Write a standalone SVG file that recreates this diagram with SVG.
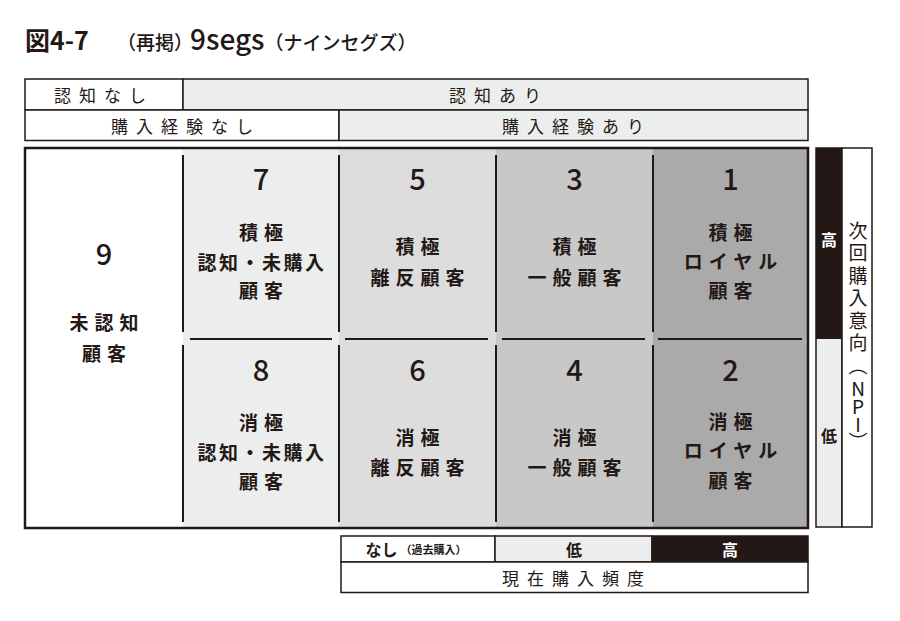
<svg xmlns="http://www.w3.org/2000/svg" width="900" height="621" viewBox="0 0 900 621">
<style>
text{font-family:"Noto Sans CJK JP","Noto Sans",sans-serif;fill:#231815;}
.hdr{font-size:17px;letter-spacing:8px;text-anchor:middle;dominant-baseline:central;}
.num{font-size:29px;font-weight:500;text-anchor:middle;dominant-baseline:central;}
.lbl{font-size:19px;font-weight:700;letter-spacing:6px;text-anchor:middle;dominant-baseline:central;}
.lbl2{font-size:19px;font-weight:700;letter-spacing:2.5px;text-anchor:middle;dominant-baseline:central;}
.axis{font-size:16px;font-weight:700;text-anchor:middle;dominant-baseline:central;}
.vert{font-size:19px;writing-mode:vertical-rl;text-orientation:upright;letter-spacing:3.5px;}
.box{stroke:#231815;stroke-width:1.5;}
.div{stroke:#231815;stroke-width:2;fill:none;}
.c1{fill:#eceeed;}.c2{fill:#dcdddc;}.c3{fill:#c8c8c8;}.c4{fill:#a9aaa9;}
</style>
<rect width="900" height="621" fill="#ffffff"/>

<g id="title">
<text y="50"><tspan x="25" font-size="25" font-weight="700">図4-7</tspan><tspan x="117" font-size="19" font-weight="500">（再掲）</tspan><tspan x="190" font-size="28" font-weight="500">9segs</tspan><tspan font-size="19" font-weight="500">（ナインセグズ）</tspan></text>
</g>

<g id="header-awareness">
<rect x="25" y="79" width="158" height="31" fill="#ffffff" class="box"/>
<rect x="183" y="79" width="625" height="31" class="c1 box"/>
<text class="hdr" x="104" y="94.5">認知なし</text>
<text class="hdr" x="499" y="94.5">認知あり</text>
</g>
<g id="header-purchase">
<rect x="25" y="110" width="314" height="30.5" fill="#ffffff" class="box"/>
<rect x="339" y="110" width="469" height="30.5" class="c1 box"/>
<text class="hdr" x="186" y="125.5">購入経験なし</text>
<text class="hdr" x="577" y="125.5">購入経験あり</text>
</g>

<g id="matrix-bg">
<rect x="25" y="148" width="783" height="380" fill="#ffffff"/>
<rect x="183" y="148" width="156" height="380" class="c1"/>
<rect x="339" y="148" width="157" height="380" class="c2"/>
<rect x="496" y="148" width="157" height="380" class="c3"/>
<rect x="653" y="148" width="155" height="380" class="c4"/>
<rect x="25" y="148" width="783" height="380" fill="none" stroke="#231815" stroke-width="2.5"/>
</g>

<g id="dividers">
<line class="div" x1="183" y1="155" x2="183" y2="332"/>
<line class="div" x1="339" y1="155" x2="339" y2="332"/>
<line class="div" x1="496" y1="155" x2="496" y2="332"/>
<line class="div" x1="653" y1="155" x2="653" y2="332"/>
<line class="div" x1="183" y1="345" x2="183" y2="522"/>
<line class="div" x1="339" y1="345" x2="339" y2="522"/>
<line class="div" x1="496" y1="345" x2="496" y2="522"/>
<line class="div" x1="653" y1="345" x2="653" y2="522"/>
<line class="div" x1="190" y1="339" x2="332" y2="339"/>
<line class="div" x1="345" y1="339" x2="488" y2="339"/>
<line class="div" x1="502" y1="339" x2="645" y2="339"/>
<line class="div" x1="658" y1="339" x2="802" y2="339"/>
</g>

<g id="seg9">
<text class="num" x="104" y="252">9</text>
<text class="lbl" x="107" y="321">未認知</text>
<text class="lbl" x="107" y="352">顧客</text>
</g>
<g id="seg7">
<text class="num" x="261" y="177">7</text>
<text class="lbl" x="264" y="231">積極</text>
<text class="lbl2" x="262" y="261">認知・未購入</text>
<text class="lbl" x="264" y="289">顧客</text>
</g>
<g id="seg8">
<text class="num" x="261" y="368">8</text>
<text class="lbl" x="264" y="421">消極</text>
<text class="lbl2" x="262" y="451">認知・未購入</text>
<text class="lbl" x="264" y="480">顧客</text>
</g>
<g id="seg5">
<text class="num" x="417.5" y="177">5</text>
<text class="lbl" x="420.5" y="245">積極</text>
<text class="lbl" x="420.5" y="276">離反顧客</text>
</g>
<g id="seg6">
<text class="num" x="417.5" y="368">6</text>
<text class="lbl" x="420.5" y="436">消極</text>
<text class="lbl" x="420.5" y="466">離反顧客</text>
</g>
<g id="seg3">
<text class="num" x="574.5" y="177">3</text>
<text class="lbl" x="577.5" y="245">積極</text>
<text class="lbl" x="577.5" y="276">一般顧客</text>
</g>
<g id="seg4">
<text class="num" x="574.5" y="368">4</text>
<text class="lbl" x="577.5" y="436">消極</text>
<text class="lbl" x="577.5" y="466">一般顧客</text>
</g>
<g id="seg1">
<text class="num" x="730.5" y="177">1</text>
<text class="lbl" x="733.5" y="231">積極</text>
<text class="lbl" x="733.5" y="260">ロイヤル</text>
<text class="lbl" x="733.5" y="289">顧客</text>
</g>
<g id="seg2">
<text class="num" x="730.5" y="368">2</text>
<text class="lbl" x="733.5" y="420">消極</text>
<text class="lbl" x="733.5" y="449">ロイヤル</text>
<text class="lbl" x="733.5" y="479">顧客</text>
</g>

<g id="axis-npi">
<rect x="816" y="148" width="26" height="191" fill="#231815"/>
<rect x="816" y="339" width="26" height="188" class="c1"/>
<rect x="816" y="148" width="26" height="379" fill="none" class="box"/>
<rect x="842" y="148" width="30" height="379" fill="#ffffff" class="box"/>
<text class="axis" x="829" y="239" style="fill:#ffffff">高</text>
<text class="axis" x="829" y="435">低</text>
<text class="vert" x="858" y="221">次回購入意向（<tspan style="letter-spacing:-1px">NPI</tspan>）</text>
</g>

<g id="axis-frequency">
<rect x="341" y="536" width="154" height="26" fill="#ffffff" class="box"/>
<rect x="495" y="536" width="157" height="26" class="c1 box"/>
<rect x="652" y="536" width="156" height="26" fill="#231815" class="box"/>
<rect x="341" y="562" width="467" height="30.5" fill="#ffffff" class="box"/>
<text class="axis" x="416" y="549">なし<tspan font-size="11" dx="3">（過去購入）</tspan></text>
<text class="axis" x="574" y="549">低</text>
<text class="axis" x="730" y="549" style="fill:#ffffff">高</text>
<text class="hdr" x="577" y="577.5" font-size="18" letter-spacing="9">現在購入頻度</text>
</g>
</svg>
